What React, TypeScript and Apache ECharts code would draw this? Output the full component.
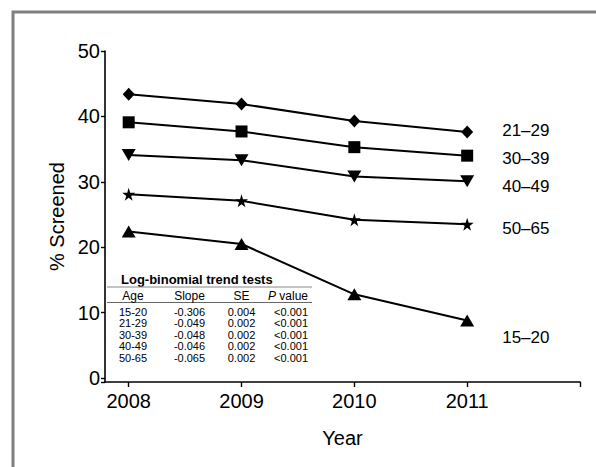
import React, { useEffect, useRef } from "react";
import * as echarts from "echarts";

const years = [2008, 2009, 2010, 2011];
const groupNames = ["21–29", "30–39", "40–49", "50–65", "15–20"];
const pct2129 = [43.4, 41.9, 39.3, 37.6];
const pct3039 = [39.1, 37.7, 35.3, 34.0];
const pct4049 = [34.1, 33.3, 30.8, 30.1];
const pct5065 = [28.1, 27.1, 24.2, 23.5];
const pct1520 = [22.4, 20.5, 12.8, 8.8];

const tableTitle = "Log-binomial trend tests";
const tableAges = ["15-20", "21-29", "30-39", "40-49", "50-65"];
const tableSlopes = ["-0.306", "-0.049", "-0.048", "-0.046", "-0.065"];
const tableSE = ["0.004", "0.002", "0.002", "0.002", "0.002"];
const tableP = ["<0.001", "<0.001", "<0.001", "<0.001", "<0.001"];

const FONT = "'Liberation Sans', Arial, Helvetica, sans-serif";
const STAR = "path://M50,0 L61,35 L98,35 L68,57 L79,91 L50,70 L21,91 L32,57 L2,35 L39,35 Z";

export default function App() {
  const ref = useRef<HTMLDivElement>(null);
  useEffect(() => {
    if (!ref.current) return;
    const chart = echarts.init(ref.current, null, { renderer: "svg" });
    const valueSets = [pct2129, pct3039, pct4049, pct5065, pct1520];
    const symbols = ["diamond", "rect", "triangle", STAR, "triangle"];
    const rotates = [0, 0, 180, 0, 0];
    const sizes: any[] = [[12, 13], [12, 12], [14, 12], 13, [14, 12]];
    const labelDy = [-2, 3, 5, 4, 17];
    const series = groupNames.map((name, i) => ({
      type: "line",
      name,
      data: years.map((y, j) => [y, valueSets[i][j]]),
      symbol: symbols[i],
      symbolRotate: rotates[i],
      symbolSize: sizes[i],
      showAllSymbol: true,
      lineStyle: { color: "#000", width: 2 },
      itemStyle: { color: "#000", borderWidth: 0 },
      endLabel: {
        show: true,
        formatter: "{a}",
        distance: 35,
        offset: [0, labelDy[i]],
        color: "#000",
        fontSize: 17,
        fontFamily: FONT,
      },
      z: 3,
    }));

    const colCenters = [133, 189.5, 241.5];
    const rowY0 = 311.5;
    const rowStep = 11.6;
    const rowStyle = { font: `11px ${FONT}`, fill: "#000", verticalAlign: "middle", lineHeight: 11 };
    const tableEls: any[] = [];
    tableEls.push({
      type: "text",
      x: 121,
      y: 279,
      style: { text: tableTitle, font: `bold 13px ${FONT}`, fill: "#000", verticalAlign: "middle", align: "left", lineHeight: 14 },
    });
    tableEls.push({ type: "line", shape: { x1: 107, y1: 287, x2: 312, y2: 287 }, style: { stroke: "#888", lineWidth: 1 } });
    tableEls.push({ type: "line", shape: { x1: 107, y1: 302.5, x2: 312, y2: 302.5 }, style: { stroke: "#666", lineWidth: 1 } });
    const headers = ["Age", "Slope", "SE"];
    headers.forEach((h, k) => {
      tableEls.push({
        type: "text",
        x: colCenters[k],
        y: 296,
        style: { ...rowStyle, font: `12px ${FONT}`, text: h, align: "center" },
      });
    });
    tableEls.push({
      type: "text",
      x: 308,
      y: 296,
      style: {
        ...rowStyle,
        font: `12px ${FONT}`,
        text: "{i|P} value",
        align: "right",
        rich: { i: { fontStyle: "italic", fontSize: 12, fontFamily: FONT, lineHeight: 11 } },
      },
    });
    tableAges.forEach((age, r) => {
      const y = rowY0 + r * rowStep;
      [age, tableSlopes[r], tableSE[r]].forEach((t, k) => {
        tableEls.push({
          type: "text",
          x: colCenters[k],
          y,
          style: { ...rowStyle, text: t, align: "center" },
        });
      });
      tableEls.push({
        type: "text",
        x: 308,
        y,
        style: { ...rowStyle, text: tableP[r], align: "right" },
      });
    });

    chart.setOption({
      animation: false,
      backgroundColor: "#fff",
      textStyle: { fontFamily: FONT },
      grid: { left: 105, right: 16, top: 51, bottom: 85, containLabel: false },
      xAxis: {
        type: "value",
        min: 2007.79,
        max: 2012,
        splitNumber: 5,
        name: "Year",
        nameLocation: "middle",
        nameGap: 46,
        nameTextStyle: { fontSize: 20, color: "#000", fontFamily: FONT },
        axisLine: { show: true, onZero: false, lineStyle: { color: "#000", width: 1.6 } },
        axisTick: { show: true, length: 5, lineStyle: { color: "#000", width: 1.4 } },
        splitLine: { show: false },
        axisLabel: {
          margin: 9,
          fontSize: 20,
          color: "#000",
          fontFamily: FONT,
          showMinLabel: false,
          formatter: (v: number) => {
            const r = Math.round(v);
            return Math.abs(v - r) < 1e-6 && years.includes(r) ? String(r) : "";
          },
        },
      },
      yAxis: {
        type: "value",
        min: -0.6,
        max: 50,
        splitNumber: 5,
        name: "% Screened",
        nameLocation: "middle",
        nameGap: 37,
        nameTextStyle: { fontSize: 20, color: "#000", fontFamily: FONT },
        axisLine: { show: true, lineStyle: { color: "#000", width: 1.6 } },
        axisTick: { show: true, length: 4, lineStyle: { color: "#000", width: 1.4 } },
        splitLine: { show: false },
        axisLabel: {
          margin: 5,
          fontSize: 20,
          color: "#000",
          fontFamily: FONT,
          formatter: (v: number) => {
            const r = Math.round(v);
            return Math.abs(v - r) < 1e-6 && r >= 0 && r % 10 === 0 ? String(r) : "";
          },
        },
      },
      graphic: [
        {
          type: "rect",
          shape: { x: 13, y: 12, width: 700, height: 600 },
          style: { fill: "none", stroke: "#7f7f7f", lineWidth: 3 },
          silent: true,
          z: 0,
        },
        { type: "group", children: tableEls },
      ],
      series,
    });
    return () => chart.dispose();
  }, []);
  return (
    <div
      ref={ref}
      style={{ position: "fixed", left: 0, top: 0, width: 596, height: 467, background: "#fff" }}
    />
  );
}
